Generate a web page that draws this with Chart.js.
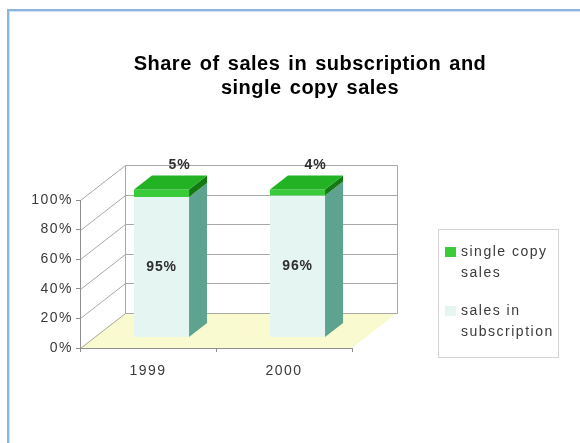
<!DOCTYPE html>
<html>
<head>
<meta charset="utf-8">
<script src="https://cdn.jsdelivr.net/npm/chart.js@4/dist/chart.umd.min.js"></script>
<style>
  html, body { margin: 0; padding: 0; background: #ffffff; }
  #wrap { width: 580px; height: 443px; }
</style>
</head>
<body>
<div id="wrap"><canvas id="c" width="580" height="443"></canvas></div>
<script>
// ---- data ----
const years = ['1999', '2000'];
const subscriptionShare = [95, 96];
const singleCopyShare = [5, 4];
const seriesNames = ['sales in subscription', 'single copy sales'];
const yTicks = [0, 20, 40, 60, 80, 100];
const titleLines = ['Share of sales in subscription and', 'single copy sales'];

// ---- look of the 3D box ----
const DEPTH = { x: 45, y: -35 };          // receding direction of the box
const BAR_FRONT = 0.3, BAR_BACK = 0.7;    // where the bars sit inside the depth
const FONT = '"Liberation Sans", Arial, sans-serif';
const TEXT_COLOR = '#3a3a3a';
const GRID_COLOR = '#a8a8a8';
const FLOOR_COLOR = '#fafad0';
const faces = [
  { front: '#e5f5f1', side: '#5ea38f', top: '#e5f5f1' },
  { front: '#3acb3a', side: '#137a13', top: '#23b223' }
];

function poly(c, pts, fill, stroke) {
  c.beginPath();
  c.moveTo(pts[0][0], pts[0][1]);
  for (let i = 1; i < pts.length; i++) c.lineTo(pts[i][0], pts[i][1]);
  c.closePath();
  if (fill) { c.fillStyle = fill; c.fill(); }
  if (stroke) { c.strokeStyle = stroke; c.lineWidth = 1; c.stroke(); }
}

function line(c, pts, color) {
  c.beginPath();
  c.moveTo(pts[0][0], pts[0][1]);
  for (let i = 1; i < pts.length; i++) c.lineTo(pts[i][0], pts[i][1]);
  c.strokeStyle = color; c.lineWidth = 1; c.stroke();
}

function wrapText(c, text, maxWidth) {
  const words = text.split(' ');
  const out = [];
  let cur = '';
  for (const w of words) {
    const test = cur ? cur + ' ' + w : w;
    if (cur && c.measureText(test).width > maxWidth) { out.push(cur); cur = w; }
    else cur = test;
  }
  if (cur) out.push(cur);
  return out;
}

const box3d = {
  id: 'box3d',
  beforeDraw(chart) {
    const c = chart.ctx, a = chart.chartArea, ys = chart.scales.y;
    c.letterSpacing = '1.5px';

    c.save();
    // frame lines along the top and left
    c.fillStyle = '#8db3df';
    c.fillRect(7, 9, 573, 2);
    c.fillRect(7, 9, 2, 434);
    c.fillStyle = '#cfe0f3';
    c.fillRect(9, 11, 571, 1);
    c.fillRect(9, 11, 1, 432);

    // floor
    const y0 = ys.getPixelForValue(0);
    poly(c, [[a.left, y0], [a.right, y0], [a.right + DEPTH.x, y0 + DEPTH.y], [a.left + DEPTH.x, y0 + DEPTH.y]], FLOOR_COLOR);

    // side-wall and back-wall gridlines
    c.translate(0.5, 0.5);
    yTicks.forEach(v => {
      const y = Math.round(ys.getPixelForValue(v));
      line(c, [[a.left, y], [a.left + DEPTH.x, y + DEPTH.y], [a.right + DEPTH.x, y + DEPTH.y]], GRID_COLOR);
    });
    const yTop = Math.round(ys.getPixelForValue(100)), yBot = Math.round(y0);
    line(c, [[a.left + DEPTH.x, yTop + DEPTH.y], [a.left + DEPTH.x, yBot + DEPTH.y]], GRID_COLOR);
    line(c, [[a.right + DEPTH.x, yTop + DEPTH.y], [a.right + DEPTH.x, yBot + DEPTH.y]], GRID_COLOR);
    c.restore();

    // title
    c.save();
    c.letterSpacing = '0.5px';
    c.wordSpacing = '2px';
    c.font = 'bold 20px ' + FONT;
    c.fillStyle = '#000000';
    c.textAlign = 'center';
    c.textBaseline = 'alphabetic';
    titleLines.forEach((t, i) => c.fillText(t, 310, 70 + i * 24));
    c.restore();

    // legend (top series first)
    c.save();
    c.strokeStyle = '#d4d4d4';
    c.lineWidth = 1;
    c.strokeRect(438.5, 229.5, 120, 128);
    c.font = '14px ' + FONT;
    c.fillStyle = TEXT_COLOR;
    c.textAlign = 'left';
    c.textBaseline = 'middle';
    let ly = 252;
    for (let i = chart.data.datasets.length - 1; i >= 0; i--) {
      const ds = chart.data.datasets[i];
      c.fillStyle = faces[i].front;
      c.fillRect(445, ly - 5, 11, 10);
      c.fillStyle = TEXT_COLOR;
      const lines = wrapText(c, ds.label, 97);
      lines.forEach((t, k) => c.fillText(t, 461, ly + k * 21));
      ly += lines.length * 21 + 17;
    }
    c.restore();
  },
  beforeDatasetsDraw(chart) {
    const c = chart.ctx;
    const n = chart.data.datasets.length;
    const sx = DEPTH.x * (BAR_BACK - BAR_FRONT), sy = DEPTH.y * (BAR_BACK - BAR_FRONT);
    c.save();
    for (let i = 0; i < n; i++) {
      const meta = chart.getDatasetMeta(i);
      meta.data.forEach(el => {
        const w = el.width;
        const x0 = el.x - w / 2 + DEPTH.x * BAR_FRONT, x1 = x0 + w;
        const yt = el.y + DEPTH.y * BAR_FRONT, yb = el.base + DEPTH.y * BAR_FRONT;
        poly(c, [[x0, yt], [x1, yt], [x1, yb], [x0, yb]], faces[i].front);
        poly(c, [[x1, yt], [x1 + sx, yt + sy], [x1 + sx, yb + sy], [x1, yb]], faces[i].side);
        if (i === n - 1) {
          poly(c, [[x0, yt], [x1, yt], [x1 + sx, yt + sy], [x0 + sx, yt + sy]], faces[i].top);
        }
      });
    }
    // value labels
    c.font = 'bold 14px ' + FONT;
    c.letterSpacing = '0.8px';
    c.fillStyle = '#2e2e2e';
    c.textAlign = 'center';
    c.textBaseline = 'middle';
    for (let i = 0; i < n; i++) {
      const meta = chart.getDatasetMeta(i);
      const vals = chart.data.datasets[i].data;
      meta.data.forEach((el, j) => {
        const txt = vals[j] + '%';
        if (i === n - 1) {
          c.fillText(txt, el.x + DEPTH.x * BAR_BACK, el.y + DEPTH.y * BAR_BACK - 10);
        } else {
          c.fillText(txt, el.x + DEPTH.x * BAR_FRONT, (el.y + el.base) / 2 + DEPTH.y * BAR_FRONT);
        }
      });
    }
    c.restore();
    return false;
  }
};

new Chart(document.getElementById('c'), {
  type: 'bar',
  data: {
    labels: years,
    datasets: [
      { label: seriesNames[0], data: subscriptionShare, backgroundColor: faces[0].front },
      { label: seriesNames[1], data: singleCopyShare, backgroundColor: faces[1].front }
    ]
  },
  options: {
    responsive: false,
    animation: false,
    devicePixelRatio: 1,
    layout: { padding: { left: 0, top: 200, right: 228, bottom: 0 } },
    datasets: { bar: { categoryPercentage: 1, barPercentage: 0.405 } },
    plugins: { legend: { display: false }, title: { display: false }, tooltip: { enabled: false } },
    scales: {
      x: {
        stacked: true,
        grid: { drawOnChartArea: false, tickLength: 4, color: '#8f8f8f', offset: true },
        border: { color: '#8f8f8f' },
        ticks: { color: TEXT_COLOR, font: { family: FONT, size: 14 }, padding: 11, maxRotation: 0 },
        afterFit(s) { s.height = 95; }
      },
      y: {
        stacked: true,
        min: 0,
        max: 100,
        afterBuildTicks(s) { s.ticks = yTicks.map(v => ({ value: v })); },
        grid: { drawOnChartArea: false, tickLength: 4, color: '#8f8f8f' },
        border: { color: '#8f8f8f' },
        ticks: { color: TEXT_COLOR, font: { family: FONT, size: 14 }, padding: 3, callback: v => v + '%' },
        afterFit(s) { s.width = 80; }
      }
    }
  },
  plugins: [box3d]
});
</script>
</body>
</html>
